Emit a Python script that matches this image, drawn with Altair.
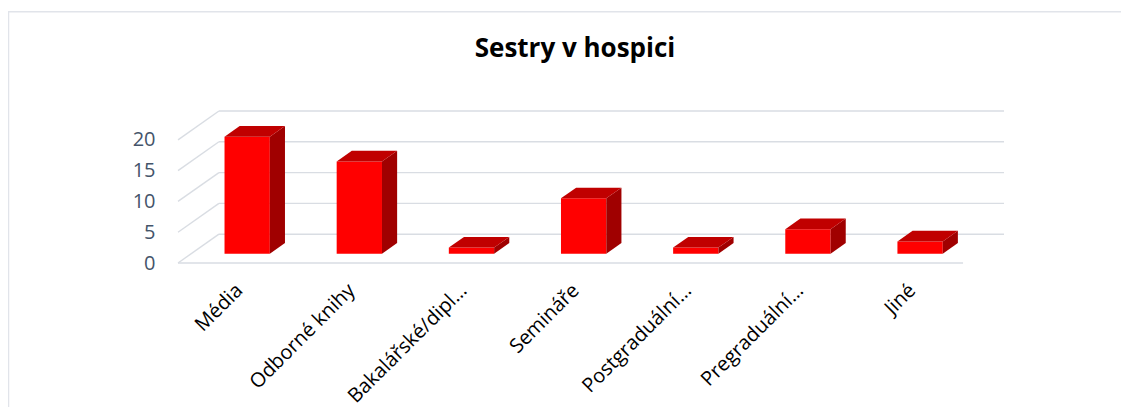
import json
import altair as alt
import pandas as pd

# ---- data ----
categories = ["Média", "Odborné knihy", "Bakalářské/dipl…", "Semináře",
              "Postgraduální…", "Pregraduální…", "Jiné"]
values = [19, 15, 1, 9, 1, 4, 2]
y_ticks = [0, 5, 10, 15, 20]
title_text = "Sestry v hospici"

# ---- pseudo-3D projection (Excel 3-D column look), in data units ----
N = len(categories)
BACK_DX = 0.365   # horizontal shift of the back wall, category units
BACK_DY = 4.68    # vertical shift of the back wall, value units
FRONT_D = 0.32    # depth of the bar front face (0 = front, 1 = back)
BAR_D = 0.37      # depth of a bar
HALF_W = 0.202    # half bar width, category units

fx, fy = FRONT_D * BACK_DX, FRONT_D * BACK_DY
ddx, ddy = BAR_D * BACK_DX, BAR_D * BACK_DY
Y_MAX = y_ticks[-1] + BACK_DY

front_rows, side_rows, top_rows = [], [], []
for i, (c, v) in enumerate(zip(categories, values)):
    xl = i + 0.5 - HALF_W + fx
    xr = i + 0.5 + HALF_W + fx
    yb, yt = fy, v + fy
    front_rows.append(dict(cat=c, value=v, xl=xl, xr=xr, yb=yb, yt=yt))
    side_rows += [dict(cat=c, x=xr, y=yb, y2=yt),
                  dict(cat=c, x=xr + ddx, y=yb + ddy, y2=yt + ddy)]
    top_rows += [dict(cat=c, y=yt, x=xl, x2=xr),
                 dict(cat=c, y=yt + ddy, x=xl + ddx, x2=xr + ddx)]
front_df = pd.DataFrame(front_rows)
side_df = pd.DataFrame(side_rows)
top_df = pd.DataFrame(top_rows)

grid_rows = []
for t in y_ticks:
    grid_rows.append(dict(x=BACK_DX, x2=N + BACK_DX, y=t + BACK_DY, y2=t + BACK_DY))
    grid_rows.append(dict(x=0, x2=BACK_DX, y=t, y2=t + BACK_DY))
grid_rows.append(dict(x=0, x2=N, y=0, y2=0))
grid_df = pd.DataFrame(grid_rows)

one = pd.DataFrame({"t": [title_text]})

FONT = "Open Sans"
xscale = alt.Scale(domain=[0, N + BACK_DX], nice=False, zero=False)
yscale = alt.Scale(domain=[0, Y_MAX], nice=False, zero=False)
label_expr = json.dumps(categories, ensure_ascii=False) + "[floor(datum.value)]"
x_axis = alt.Axis(values=[i + 0.5 for i in range(N)], labelExpr=label_expr,
                  labelAngle=-45, labelAlign="right", labelBaseline="middle",
                  labelPadding=24, labelOffset=5, ticks=False, domain=False,
                  grid=False, title=None, labelFont=FONT, labelFontSize=20,
                  labelColor="#000000", labelOverlap=False, labelFlush=False)
y_axis = alt.Axis(values=y_ticks, ticks=False, domain=False, grid=False,
                  title=None, labelFont=FONT, labelFontSize=20,
                  labelColor="#44546A", labelPadding=23)

def X(f):
    return alt.X(f, type="quantitative", scale=xscale, axis=x_axis, stack=None)

def Y(f):
    return alt.Y(f, type="quantitative", scale=yscale, axis=y_axis, stack=None)

grid = alt.Chart(grid_df).mark_rule(color="#D9DDE3", strokeWidth=1.4).encode(
    x=X("x"), x2="x2", y=Y("y"), y2="y2")

front = alt.Chart(front_df).mark_rect(color="#FF0000").encode(
    x=X("xl"), x2="xr", y=Y("yb"), y2="yt",
    tooltip=["cat:N", "value:Q"])

side = alt.Chart(side_df).mark_area(orient="vertical", color="#A00000").encode(
    x=X("x"), y=Y("y"), y2="y2", detail="cat:N")

top = alt.Chart(top_df).mark_area(orient="horizontal", color="#C00000").encode(
    y=Y("y"), x=X("x"), x2="x2", detail="cat:N")

border = alt.Chart(one).mark_rect(fill=None, stroke="#E1E4EA", strokeWidth=1.5).encode(
    x=alt.value(-169.5), x2=alt.value(1400), y=alt.value(-99.3), y2=alt.value(600))

title = alt.Chart(one).mark_text(font=FONT, fontWeight="bold", fontSize=26,
                                 align="center", baseline="alphabetic",
                                 color="#000000").encode(
    text="t:N", x=alt.value(397), y=alt.value(-54))

chart = alt.layer(border, grid, front, side, top, title).properties(
    width=826, height=152,
    background="#FFFFFF",
    autosize=alt.AutoSizeParams(type="none"),
    padding={"left": 170, "top": 103, "right": 117, "bottom": 144},
).configure_view(strokeWidth=0, stroke="transparent")

chart.save("out.html", embed_options={"renderer": "svg", "actions": False})
